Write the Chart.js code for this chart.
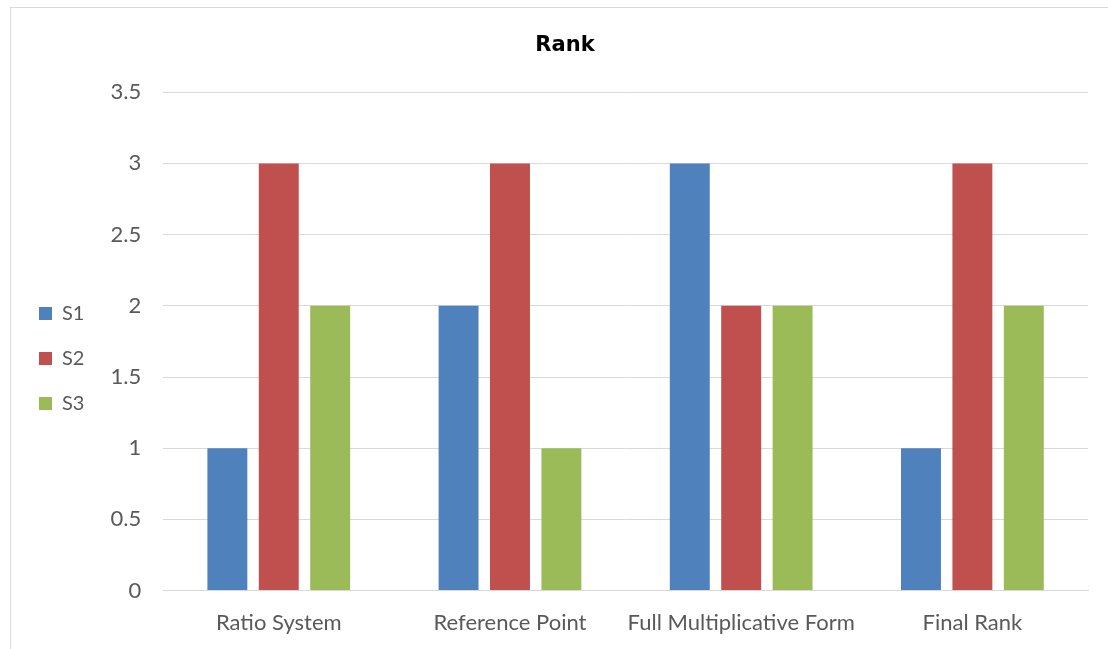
<!DOCTYPE html>
<html>
<head>
<meta charset="utf-8">
<script src="https://cdn.jsdelivr.net/npm/chart.js@4.4.0/dist/chart.umd.min.js"></script>
<style>
  html, body { margin: 0; padding: 0; background: #fff; }
  #wrap { position: relative; width: 1108px; height: 649px; }
  #frame { position: absolute; left: 10px; top: 7px; width: 1110px; height: 660px; border: 1px solid #d9d9d9; box-sizing: border-box; pointer-events: none; }
  canvas { position: absolute; left: 0; top: 0; }
</style>
</head>
<body>
<div id="wrap">
  <canvas id="c" width="1108" height="649"></canvas>
  <div id="frame"></div>
</div>
<script>
const categories = ["Ratio System", "Reference Point", "Full Multiplicative Form", "Final Rank"];
const seriesNames = ["S1", "S2", "S3"];
const s1 = [1, 2, 3, 1];
const s2 = [3, 3, 2, 3];
const s3 = [2, 1, 2, 2];
const colors = ["#4F81BD", "#C0504D", "#9BBB59"];

const titleShift = {
  id: 'titleShift',
  afterLayout(chart) {
    const tb = chart.titleBlock;
    if (tb) { tb.left = 42; tb.right = 1088; }
  }
};

const ctx = document.getElementById('c').getContext('2d');
new Chart(ctx, {
  type: 'bar',
  data: {
    labels: categories,
    datasets: [s1, s2, s3].map((d, i) => ({
      label: seriesNames[i],
      data: d,
      backgroundColor: colors[i],
      borderWidth: 0,
      categoryPercentage: 0.667,
      barPercentage: 0.777
    }))
  },
  plugins: [titleShift],
  options: {
    responsive: false,
    animation: false,
    devicePixelRatio: 1,
    layout: { padding: { left: 14, right: 20, top: 20, bottom: -6 } },
    plugins: {
      title: {
        display: true,
        text: 'Rank',
        color: '#000',
        font: { family: '"DejaVu Sans", sans-serif', size: 21, weight: 'bold' },
        padding: { top: 13, bottom: 34 }
      },
      legend: {
        position: 'left',
        title: { display: true, text: ' ', padding: { top: 0, bottom: 30 }, font: { size: 10 } },
        labels: {
          boxWidth: 13,
          boxHeight: 13,
          padding: 25,
          color: '#595959',
          font: { family: 'Lato, "Liberation Sans", sans-serif', size: 20 }
        }
      },
      tooltip: { enabled: false }
    },
    scales: {
      x: {
        grid: { display: false, drawTicks: false },
        border: { display: true, color: '#d9d9d9', width: 1 },
        ticks: { color: '#595959', padding: 19, maxRotation: 0, minRotation: 0, autoSkip: false,
          font: { family: 'Lato, "Liberation Sans", sans-serif', size: 22 } }
      },
      y: {
        min: 0,
        max: 3.5,
        grid: { color: '#d9d9d9', drawTicks: false },
        border: { display: false },
        afterFit: (s) => { s.width = s.width - 6; },
        ticks: {
          stepSize: 0.5, color: '#595959', padding: 22,
          font: { family: 'Lato, "Liberation Sans", sans-serif', size: 22 },
          callback: (v) => String(v)
        }
      }
    }
  }
});
</script>
</body>
</html>
